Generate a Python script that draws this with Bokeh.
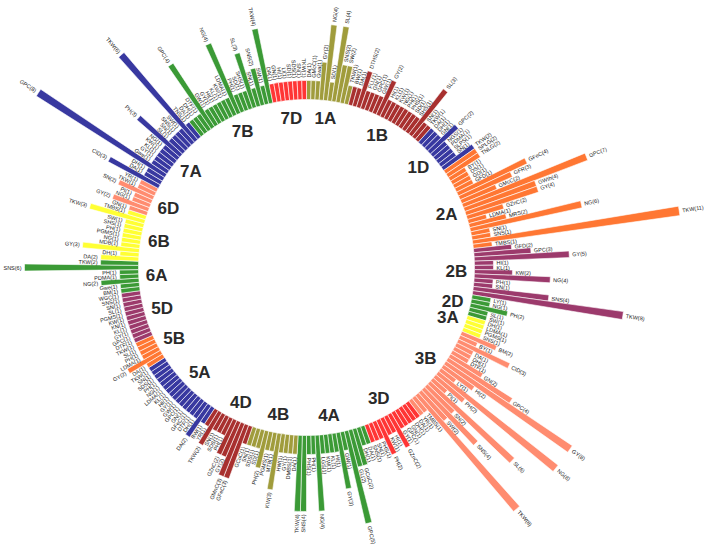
import math
from bokeh.plotting import figure
from bokeh.models import Range1d, ColumnDataSource
from bokeh.core.properties import value
from bokeh.embed import file_html
from bokeh.resources import INLINE

chromosomes = ["1A", "1B", "1D", "2A", "2B", "2D", "3A", "3B", "3D", "4A", "4B",
               "4D", "5A", "5B", "5D", "6A", "6B", "6D", "7A", "7B", "7D"]
chrom_colors = ["#a09c3c", "#a8302f", "#3838a0", "#ff7733", "#9c3a6c", "#3b9a36",
                "#ffff33", "#ff8c70", "#ff3535", "#3b9a36", "#a09c3c", "#a8302f",
                "#3838a0", "#ff7733", "#9c3a6c", "#3b9a36", "#ffff33", "#ff8c70",
                "#3838a0", "#3b9a36", "#ff3535"]

t1A = ["DA", "GMcC", "Gwa", "GY", "NG", "SD", "SL", "SNS", "SW", "TKW"]
n1A = [1, 1, 1, 2, 4, 1, 4, 2, 2, 1]
t1B = ["BW", "DA", "DTHS", "FLL", "GN", "GPC", "GW", "GY", "HI", "KL", "KW", "NG",
       "PH", "PHS", "SD", "SHS", "SL", "SN", "TKW"]
n1B = [1, 1, 2, 1, 1, 1, 1, 2, 1, 1, 1, 1, 1, 1, 1, 1, 3, 1, 1]
t1D = ["DA", "DH", "GN", "GPC", "NGS", "PDMA", "SLPS", "SN", "TKW"]
n1D = [1, 1, 1, 2, 1, 1, 1, 1, 2]
t2A = ["SPLG", "TNLG", "BY", "DS", "GD", "GFD", "GFeC", "GFR", "GMcC", "GPC", "GWth",
       "GY", "GZnC", "LDMA", "MRS", "NG", "SN", "SNS", "TKW", "TMBS"]
n2A = [2, 2, 1, 1, 1, 1, 4, 3, 2, 7, 4, 4, 2, 1, 2, 6, 1, 1, 11, 1]
t2B = ["GFD", "GPC", "GY", "HI", "KL", "KW", "NG", "PH", "SN", "SNS", "TKW"]
n2B = [2, 3, 5, 1, 1, 2, 4, 1, 1, 4, 8]
t2D = ["LY", "NG", "PH", "SL", "SW"]
n2D = [1, 1, 2, 1, 1]
t3A = ["DH", "LDMA", "PGMS", "SNS"]
n3A = [1, 1, 1, 1]
t3B = ["BM", "BY", "CID", "DA", "DH", "DTF", "GN", "GPC", "GY", "HI", "LY", "NG",
       "PH", "PI", "SL", "SN", "SNS", "SW", "TKW", "TMBS", "YR"]
n3B = [2, 1, 3, 1, 1, 1, 2, 4, 8, 2, 1, 8, 2, 1, 6, 2, 4, 2, 8, 1, 1]
t3D = ["DA", "DH", "GN", "GPC", "GY", "GZnC", "HI", "KW", "PH", "PHS", "SN", "SNS"]
n3D = [1, 1, 1, 1, 1, 2, 1, 1, 2, 1, 1, 1]
t4A = ["DA", "DH", "GCuC", "GL", "GPC", "GW", "GY", "HI", "KL", "KW", "LGS", "NG",
       "PH", "PHS", "SNS", "TKW"]
n4A = [1, 1, 2, 2, 5, 1, 3, 1, 1, 1, 1, 4, 1, 1, 4, 4]
t4B = ["DA", "DMBS", "GY", "HW", "KW", "MTB", "PGMS", "PH", "SD", "SDS", "SN"]
n4B = [1, 1, 1, 1, 3, 1, 1, 2, 1, 1, 1]
t4D = ["GCuC", "GFeC", "GMnC", "GY", "GZnC", "PH", "SDS", "SN", "TKW", "YR"]
n4D = [1, 3, 3, 2, 2, 1, 1, 1, 2, 1]
t5A = ["BW", "DA", "DH", "DTF", "GFeC", "GN", "GPC", "GW", "GY", "HI", "KL", "LDMA",
       "NG", "PH", "SDS", "SN", "TKW"]
n5A = [1, 2, 1, 1, 1, 1, 1, 1, 1, 1, 1, 1, 1, 1, 1, 1, 1]
t5B = ["DA", "GY", "LDMA", "PH", "SL", "TKW"]
n5B = [1, 2, 1, 1, 1, 1]
t5D = ["DTF", "GPC", "GY", "KL", "KN", "KW", "PGMS", "SL", "SN", "SNS", "WGC"]
n5D = [1, 1, 1, 1, 1, 1, 1, 1, 1, 1, 1]
t6A = ["BM", "Gwe", "NG", "PDMA", "PH", "SNS", "TKW"]
n6A = [1, 1, 2, 1, 1, 6, 2]
t6B = ["DA", "DH", "GY", "MDB", "NG", "PGMS", "PH", "SHS", "SW", "TKW", "TMBS"]
n6B = [2, 1, 3, 1, 1, 1, 1, 1, 1, 3, 1]
t6D = ["GN", "GY", "NG", "PI", "SN", "TKW", "YR"]
n6D = [1, 2, 1, 1, 2, 1, 1]
t7A = ["CID", "DA", "DH", "GPC", "Gwe", "GY", "KL", "KW", "NG", "PH", "SL", "SN",
       "SNS", "SW", "TKW", "TNS"]
n7A = [3, 1, 1, 8, 1, 1, 1, 1, 1, 3, 1, 1, 1, 1, 6, 1]
t7B = ["DA", "DH", "DTF", "GPC", "GW", "GY", "HI", "KL", "KW", "LDMA", "NG", "PH",
       "SD", "SHS", "SL", "SN", "SNS", "SW", "TKW"]
n7B = [1, 1, 1, 4, 1, 1, 1, 1, 1, 1, 4, 1, 1, 1, 3, 1, 2, 1, 4]
t7D = ["DA", "GN", "HI", "LI", "SD", "SDS", "SN", "TKW"]
n7D = [1, 1, 1, 1, 1, 1, 1, 1]

trait_lists = [t1A, t1B, t1D, t2A, t2B, t2D, t3A, t3B, t3D, t4A, t4B, t4D,
               t5A, t5B, t5D, t6A, t6B, t6D, t7A, t7B, t7D]
count_lists = [n1A, n1B, n1D, n2A, n2B, n2D, n3A, n3B, n3D, n4A, n4B, n4D,
               n5A, n5B, n5D, n6A, n6B, n6D, n7A, n7B, n7D]

# ---- geometry (scale) ----
R_IN = 168.0
UNIT = 19.0
LABEL_R = 150.0

total = sum(len(t) for t in trait_lists)
pitch = 360.0 / total

bars = dict(start=[], end=[], outer=[], color=[])
labs_l = dict(x=[], y=[], text=[], angle=[])
labs_r = dict(x=[], y=[], text=[], angle=[])
clab = dict(x=[], y=[], text=[])

idx = 0
for ci, (name, tl, nl) in enumerate(zip(chromosomes, trait_lists, count_lists)):
    first = idx
    for t, n in zip(tl, nl):
        th0 = idx * pitch
        th1 = (idx + 1) * pitch
        thc = (idx + 0.5) * pitch
        ro = R_IN + UNIT * n
        bars["start"].append(math.radians(90 - th1))
        bars["end"].append(math.radians(90 - th0))
        bars["outer"].append(ro)
        bars["color"].append(chrom_colors[ci])
        rl = ro + 3
        x = rl * math.sin(math.radians(thc))
        y = rl * math.cos(math.radians(thc))
        txt = "%s(%d)" % (t, n)
        if thc < 180:
            labs_l["x"].append(x); labs_l["y"].append(y); labs_l["text"].append(txt)
            labs_l["angle"].append(math.radians(90 - thc))
        else:
            labs_r["x"].append(x); labs_r["y"].append(y); labs_r["text"].append(txt)
            labs_r["angle"].append(math.radians(270 - thc))
        idx += 1
    mid = (first + idx) / 2.0 * pitch
    clab["x"].append(LABEL_R * math.sin(math.radians(mid)))
    clab["y"].append(LABEL_R * math.cos(math.radians(mid)))
    clab["text"].append(name)

W, H = 708, 550
CX, CY = 306, 267
p = figure(width=W, height=H, output_backend="svg", toolbar_location=None,
           x_range=Range1d(-CX, W - CX), y_range=Range1d(-(H - CY), CY),
           min_border=0, outline_line_color=None)
p.axis.visible = False
p.grid.visible = False
p.background_fill_color = "white"

src = ColumnDataSource(bars)
p.annular_wedge(x=0, y=0, inner_radius=R_IN, outer_radius="outer",
                start_angle="start", end_angle="end", color="color",
                line_color="white", line_width=0.6, source=src)

p.text(x="x", y="y", text="text", angle="angle", source=ColumnDataSource(labs_l),
       text_align="left", text_baseline="middle", text_font_size="5.5px",
       text_font=value("Liberation Sans"), text_color="#1a1a1a")
p.text(x="x", y="y", text="text", angle="angle", source=ColumnDataSource(labs_r),
       text_align="right", text_baseline="middle", text_font_size="5.5px",
       text_font=value("Liberation Sans"), text_color="#1a1a1a")
p.text(x="x", y="y", text="text", source=ColumnDataSource(clab),
       text_align="center", text_baseline="middle", text_font_size="17px",
       text_font_style="bold", text_font=value("Liberation Sans"),
       text_color="#2a2a2a")

open("out.html", "w").write(file_html(p, INLINE))
